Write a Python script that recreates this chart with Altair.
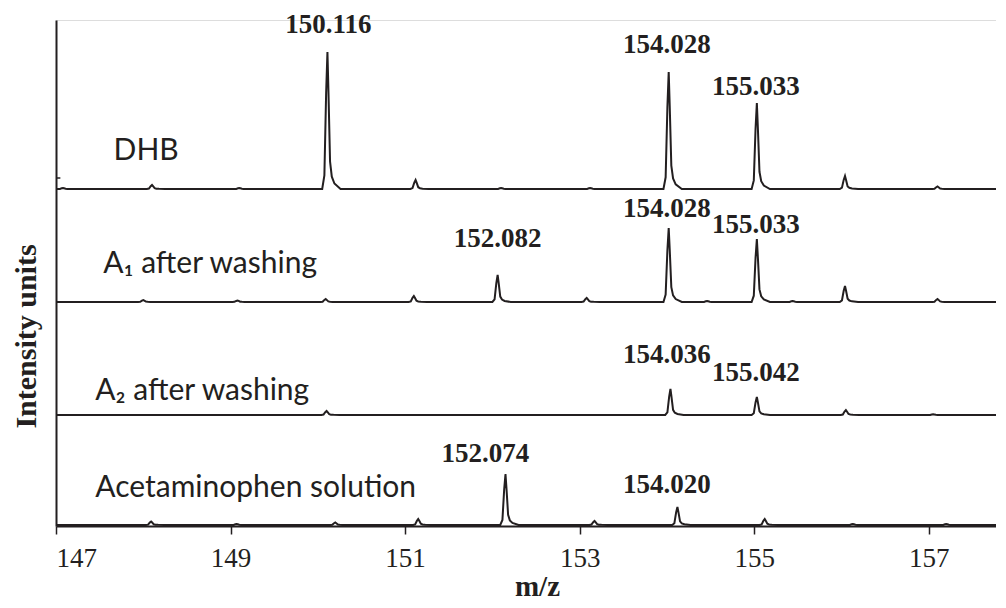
import altair as alt
import pandas as pd

# ---------------- data ----------------
x_domain = [147, 157.77]
x_ticks = [147, 149, 151, 153, 155, 157]

series_names = ["DHB", "A1 after washing", "A2 after washing", "Acetaminophen solution"]
series_offsets = [337, 224, 111, 1]          # vertical stacking offset of each trace

# peak centres (m/z) and heights (intensity units above each trace's baseline)
dhb_peak_mz = [147.08, 148.10, 149.10, 150.11, 151.12, 152.10, 153.12, 154.02, 155.03, 156.04, 157.10]
dhb_peak_h = [1, 4, 1, 137, 9, 1, 1, 117, 86, 13, 2.5]

a1_peak_mz = [148.00, 149.08, 150.09, 151.10, 152.06, 153.08, 154.02, 154.46, 155.03, 155.44, 156.04, 157.10]
a1_peak_h = [2, 1.5, 3, 6, 27, 4, 74, 1, 63, 1, 16, 3]

a2_peak_mz = [150.10, 154.04, 155.03, 156.05, 157.05]
a2_peak_h = [4, 26, 18, 5, 0.8]

acet_peak_mz = [148.09, 149.07, 150.20, 151.15, 152.15, 153.17, 154.12, 155.12, 156.13, 157.20]
acet_peak_h = [3.5, 1, 2.5, 6, 51, 4, 18, 6, 1, 1]

# shape of a single peak (m/z from apex, fraction of apex height)
profile_dx = [-0.06, -0.035, -0.015, 0.0, 0.012, 0.03, 0.05, 0.08, 0.15]
profile_frac = [0.0, 0.1, 0.7, 1.0, 0.7, 0.2, 0.09, 0.04, 0.0]

# peak annotations
peak_label_text = ["150.116", "154.028", "155.033",
                   "152.082", "154.028", "155.033",
                   "154.036", "155.042",
                   "152.074", "154.020"]
peak_label_mz = [150.12, 154.00, 155.02,
                 152.06, 154.00, 155.02,
                 154.00, 155.02,
                 151.92, 154.00]
peak_label_y = [493, 473, 431,
                279, 309, 293,
                163, 145,
                64, 33]

sample_text = ["DHB", "A₁ after washing", "A₂ after washing", "Acetaminophen solution"]
sample_mz = [147.66, 147.54, 147.45, 147.45]
sample_y = [366, 253, 126, 29]

ytick_values = [111, 224, 348]

# ---------------- build table ----------------
peaks = [(dhb_peak_mz, dhb_peak_h), (a1_peak_mz, a1_peak_h),
         (a2_peak_mz, a2_peak_h), (acet_peak_mz, acet_peak_h)]
rows = []
for name, off, (pmz, ph) in zip(series_names, series_offsets, peaks):
    rows.append({"series": name, "mz": x_domain[0], "y": off})
    rows.append({"series": name, "mz": x_domain[1], "y": off})
    for c, h in zip(pmz, ph):
        for dx, fr in zip(profile_dx, profile_frac):
            rows.append({"series": name, "mz": round(c + dx, 4), "y": off + h * fr})
spec_df = pd.DataFrame(rows).sort_values(["series", "mz"])

labels_df = pd.DataFrame({"text": peak_label_text, "mz": peak_label_mz, "y": peak_label_y})
samples_df = pd.DataFrame({"text": sample_text, "mz": sample_mz, "y": sample_y})
yticks_df = pd.DataFrame({"y": ytick_values, "x0": [147.0] * 3, "x1": [147.05] * 3})

INK = "#231f20"
SERIF = "Liberation Serif, Times New Roman, serif"

xscale = alt.Scale(domain=x_domain, nice=False, zero=False)
yscale = alt.Scale(domain=[0, 506], nice=False, zero=False)

xaxis = alt.Axis(values=x_ticks, format="d", title="m/z", grid=False,
                 domainColor=INK, domainWidth=2, tickColor=INK, tickWidth=1.5, tickSize=8,
                 labelFont=SERIF, labelFontSize=27, labelColor=INK, labelPadding=11,
                 titleFont=SERIF, titleFontWeight="bold", titleFontSize=29,
                 titleColor=INK, titleX=481, titleY=69, titleBaseline="alphabetic")
yaxis = alt.Axis(labels=False, ticks=False, grid=False, title="Intensity units",
                 domainColor=INK, domainWidth=2,
                 titleFont=SERIF, titleFontWeight="bold", titleFontSize=30,
                 titleColor=INK, titleX=-30, titleY=316, titleBaseline="middle", titleAlign="center")

lines = alt.Chart(spec_df).mark_line(color=INK, strokeWidth=2, clip=True).encode(
    x=alt.X("mz:Q", scale=xscale, axis=xaxis),
    y=alt.Y("y:Q", scale=yscale, axis=yaxis),
    detail="series:N",
    order="mz:Q",
)

yticks = alt.Chart(yticks_df).mark_rule(color=INK, strokeWidth=1.5).encode(
    x="x0:Q", x2="x1:Q", y="y:Q"
)

peak_labels = alt.Chart(labels_df).mark_text(
    font=SERIF, fontWeight="bold", fontSize=27, color=INK,
    align="center", baseline="alphabetic"
).encode(x="mz:Q", y="y:Q", text="text:N")

sample_labels = alt.Chart(samples_df).mark_text(
    font="Lato", fontSize=30, color=INK, align="left", baseline="alphabetic"
).encode(x="mz:Q", y="y:Q", text="text:N")

chart = alt.layer(lines, yticks, peak_labels, sample_labels).properties(
    width=940, height=506,
    autosize=alt.AutoSizeParams(type="none"),
    padding={"left": 48, "top": 12, "right": 0, "bottom": 78},
).configure_view(stroke=None).configure(background="white")

chart.save("out.html", embed_options={"renderer": "svg", "actions": False})
